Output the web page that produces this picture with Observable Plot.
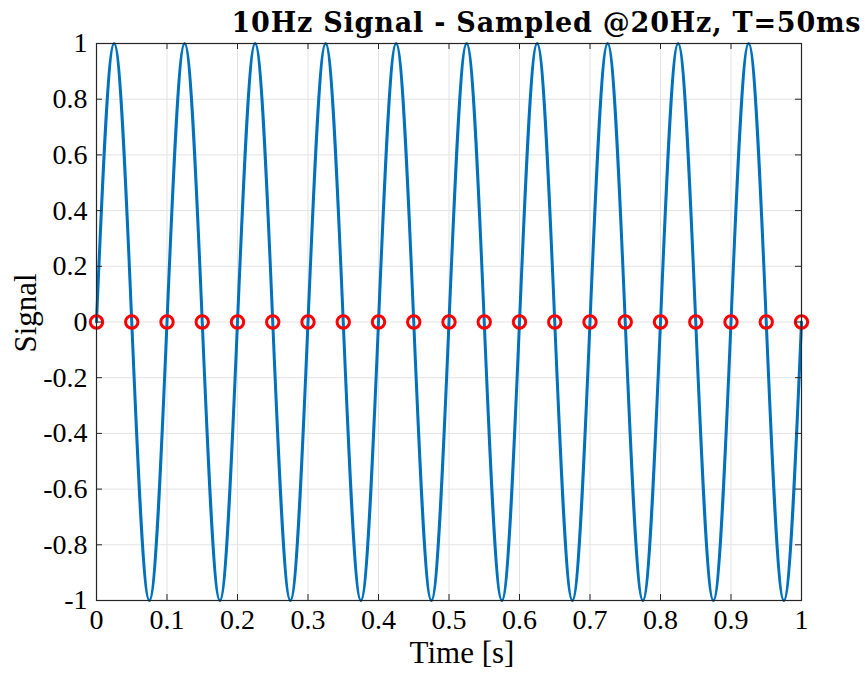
<!DOCTYPE html>
<html><head><meta charset="utf-8">
<script src="https://cdn.jsdelivr.net/npm/d3@7"></script>
<script src="https://cdn.jsdelivr.net/npm/@observablehq/plot@0.6"></script>
<style>body{margin:0;background:#fff}</style>
</head><body><div id="chart"></div>
<script>
// Curve key points (zero crossings, peaks, troughs)
const curveTimes = [0,0.025,0.05,0.075,0.1,0.125,0.15,0.175,0.2,0.225,0.25,0.275,0.3,0.325,0.35,0.375,0.4,0.425,0.45,0.475,0.5,0.525,0.55,0.575,0.6,0.625,0.65,0.675,0.7,0.725,0.75,0.775,0.8,0.825,0.85,0.875,0.9,0.925,0.95,0.975,1];
const curveValues = [0,1,0,-1,0,1,0,-1,0,1,0,-1,0,1,0,-1,0,1,0,-1,0,1,0,-1,0,1,0,-1,0,1,0,-1,0,1,0,-1,0,1,0,-1,0];
// Samples (red circles)
const sampleTimes = [0,0.05,0.1,0.15,0.2,0.25,0.3,0.35,0.4,0.45,0.5,0.55,0.6,0.65,0.7,0.75,0.8,0.85,0.9,0.95,1];
const sampleValues = [0,0,0,0,0,0,0,0,0,0,0,0,0,0,0,0,0,0,0,0,0];
// Ticks
const xTicks = [0,0.1,0.2,0.3,0.4,0.5,0.6,0.7,0.8,0.9,1];
const xTickLabels = ["0","0.1","0.2","0.3","0.4","0.5","0.6","0.7","0.8","0.9","1"];
const yTicks = [-1,-0.8,-0.6,-0.4,-0.2,0,0.2,0.4,0.6,0.8,1];
const yTickLabels = ["-1","-0.8","-0.6","-0.4","-0.2","0","0.2","0.4","0.6","0.8","1"];
const titleText = "10Hz Signal - Sampled @20Hz, T=50ms";
const xLabel = "Time [s]";
const yLabel = "Signal";

const curve = curveTimes.map((t, i) => ({t, v: curveValues[i]}));
const samples = sampleTimes.map((t, i) => ({t, v: sampleValues[i]}));

const W = 865, H = 673, mL = 96, mR = 64, mT = 43, mB = 73;
const frameH = H - mT - mB, frameW = W - mL - mR;
const axisColor = "#262626", gridColor = "#e3e3e3", tickLen = 6;

const chart = Plot.plot({
  width: W, height: H,
  marginLeft: mL, marginRight: mR, marginTop: mT, marginBottom: mB,
  style: {fontFamily: "'Liberation Serif', serif", fontSize: "28px", background: "#fff", color: "#000", overflow: "visible"},
  x: {domain: [0, 1]},
  y: {domain: [-1, 1]},
  marks: [
    Plot.gridX(xTicks, {stroke: gridColor, strokeOpacity: 1}),
    Plot.gridY(yTicks, {stroke: gridColor, strokeOpacity: 1}),
    Plot.line(curve, {x: "t", y: "v", curve: "natural", stroke: "#0072BD", strokeWidth: 3}),
    Plot.dot(samples, {x: "t", y: "v", r: 6.2, stroke: "#ff0000", strokeWidth: 3, fill: "none"}),
    Plot.frame({stroke: axisColor, strokeWidth: 1.2}),
    Plot.tickX(xTicks, {x: d => d, insetTop: frameH - tickLen, stroke: axisColor}),
    Plot.tickX(xTicks, {x: d => d, insetBottom: frameH - tickLen, stroke: axisColor}),
    Plot.tickY(yTicks, {y: d => d, insetRight: frameW - tickLen, stroke: axisColor}),
    Plot.tickY(yTicks, {y: d => d, insetLeft: frameW - tickLen, stroke: axisColor}),
    Plot.axisX(xTicks, {tickSize: 0, tickPadding: 9, label: null, tickFormat: d => xTickLabels[xTicks.indexOf(d)], fill: "#000"}),
    Plot.axisY(yTicks, {tickSize: 0, tickPadding: 9, label: null, tickFormat: d => yTickLabels[yTicks.indexOf(d)], fill: "#000"}),
    Plot.text([titleText], {frameAnchor: "top-right", text: d => d, textAnchor: "end", lineAnchor: "middle", dx: 59, dy: -19.7, fontWeight: "bold", fontFamily: "'DejaVu Serif', serif", fontSize: 27, fill: "#000"}),
    Plot.text([yLabel], {frameAnchor: "left", text: d => d, rotate: -90, textAnchor: "middle", lineAnchor: "middle", dx: -70, dy: -9, fontSize: 31, fill: "#000"}),
    Plot.text([xLabel], {frameAnchor: "bottom", text: d => d, textAnchor: "middle", lineAnchor: "middle", dx: 13, dy: 53, fontSize: 31, fill: "#000"})
  ]
});
document.getElementById("chart").appendChild(chart);
// stretch the title to the reference's extent
d3.select(chart).selectAll("text").filter(function () { return this.textContent === titleText; })
  .attr("textLength", 629).attr("lengthAdjust", "spacing");
</script>
</body></html>
